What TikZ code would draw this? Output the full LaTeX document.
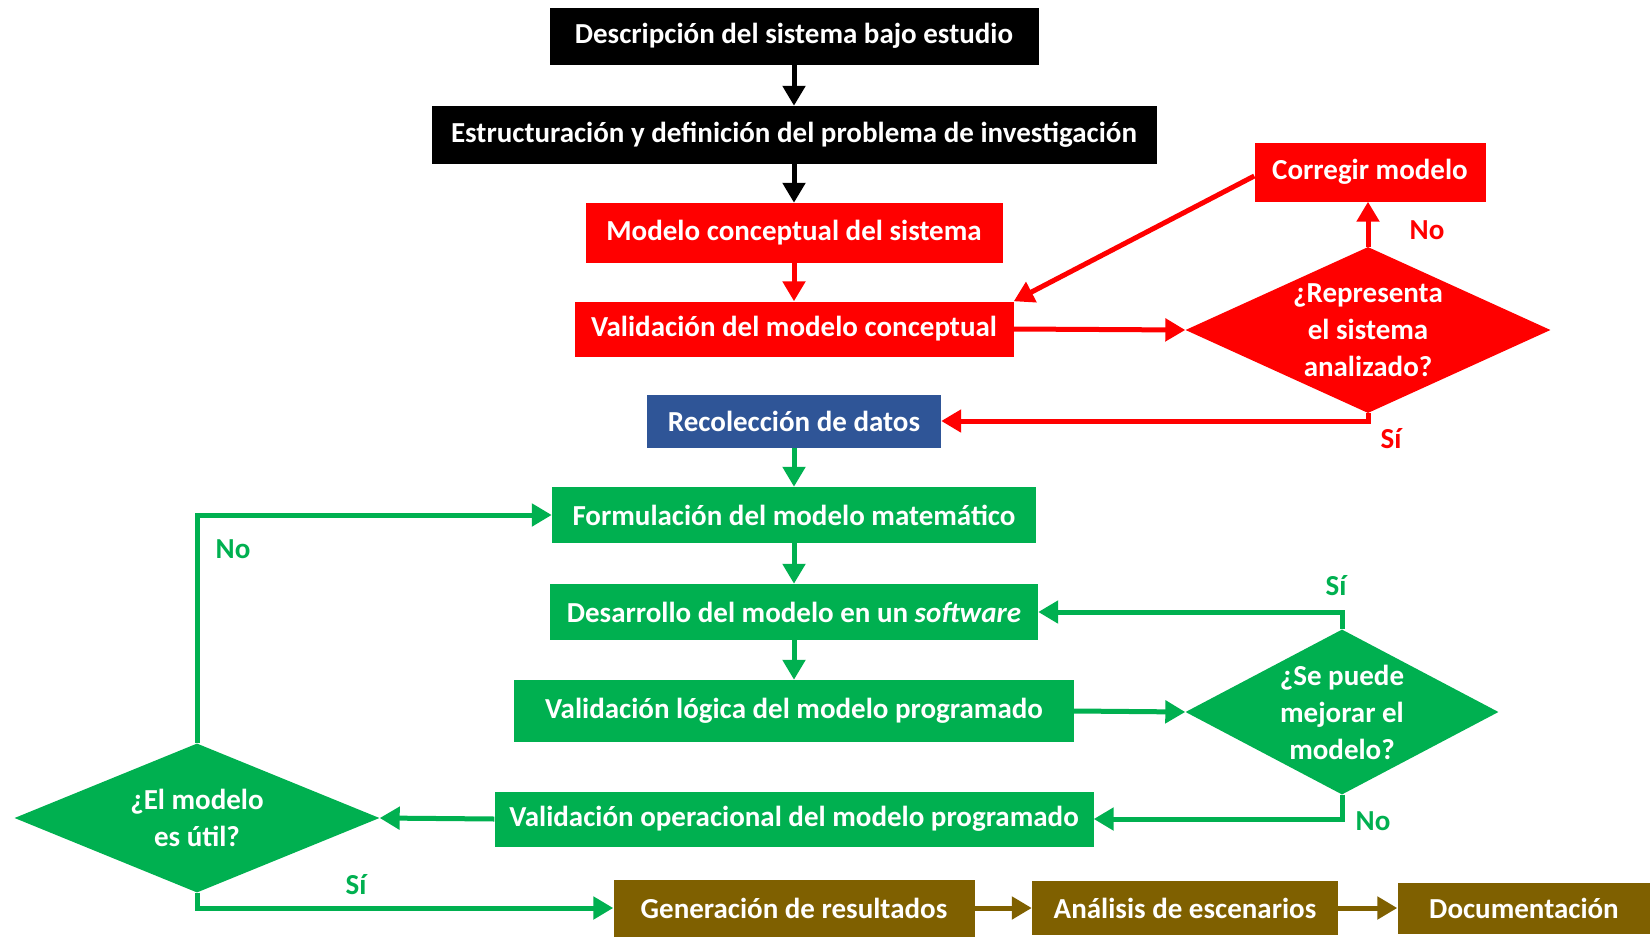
\documentclass[tikz,border=0pt]{standalone}
\usepackage{fontspec}
\setmainfont{Carlito}
\usetikzlibrary{shapes.geometric,arrows.meta}

\definecolor{rojo}{HTML}{FF0000}
\definecolor{verde}{HTML}{00B050}
\definecolor{azul}{HTML}{2F5597}
\definecolor{cafe}{HTML}{7F6000}

\tikzset{
  caja/.style={rectangle, fill=#1, text=white, inner sep=0pt,
    font=\fontsize{29}{34}\selectfont\bfseries},
  rombo/.style={diamond, fill=#1, text=white, inner sep=-6pt, align=center,
    font=\fontsize{29}{37}\selectfont\bfseries},
  flecha/.style={draw=#1, line width=5pt, -{Triangle[length=20pt,width=22pt]}},
  etiq/.style={text=#1, font=\fontsize{29}{34}\selectfont\bfseries}
}

\begin{document}
\begin{tikzpicture}[x=1pt,y=-1pt]
  \useasboundingbox (0,0) rectangle (1650,937);
  % etapa inicial
  \node[caja=black, minimum width=489pt, minimum height=57pt] (desc) at (794,36) {Descripción del sistema bajo estudio};
  \node[caja=black, minimum width=725pt, minimum height=58pt] (estr) at (794,135) {Estructuración y definición del problema de investigación};
  % modelo conceptual
  \node[caja=rojo, minimum width=417pt, minimum height=60pt] (conc) at (794,233) {Modelo conceptual del sistema};
  \node[caja=rojo, minimum width=439pt, minimum height=55pt] (valc) at (794,329) {Validación del modelo conceptual};
  \node[caja=rojo, minimum width=231pt, minimum height=59pt] (corr) at (1370,172) {Corregir modelo};
  \node[rombo=rojo, aspect=2.2, minimum width=365pt, minimum height=166pt] (repr) at (1368,330) {¿Representa\\el sistema\\analizado?};
  \node[caja=azul, minimum width=294pt, minimum height=53pt] (reco) at (794,421) {Recolección de datos};
  % modelo matematico
  \node[caja=verde, minimum width=484pt, minimum height=56pt] (form) at (794,515) {Formulación del modelo matemático};
  \node[caja=verde, minimum width=488pt, minimum height=56pt] (desa) at (794,612) {Desarrollo del modelo en un \textit{software}};
  \node[caja=verde, minimum width=560pt, minimum height=62pt] (vall) at (794,711) {Validación lógica del modelo programado};
  \node[rombo=verde, aspect=1.9, minimum width=313pt, minimum height=165pt] (mejo) at (1342,712) {¿Se puede\\mejorar el\\modelo?};
  \node[caja=verde, minimum width=599pt, minimum height=55pt] (valo) at (794,819) {Validación operacional del modelo programado};
  \node[rombo=verde, aspect=2.45, minimum width=365pt, minimum height=149pt] (util) at (197,818) {¿El modelo\\es útil?};
  % resultados
  \node[caja=cafe, minimum width=361pt, minimum height=57pt] (gene) at (794,908) {Generación de resultados};
  \node[caja=cafe, minimum width=306pt, minimum height=54pt] (anal) at (1185,908) {Análisis de escenarios};
  \node[caja=cafe, minimum width=253pt, minimum height=51pt] (docu) at (1524,908) {Documentación};

  \draw[flecha=black] (desc) -- (estr);
  \draw[flecha=black] (estr) -- (conc);
  \draw[flecha=rojo] (conc) -- (valc);
  \draw[flecha=rojo] (valc.east) -- (repr.west);
  \draw[flecha=rojo] (repr.north) -- (repr.north |- corr.south);
  \draw[flecha=rojo] ([yshift=-4pt]corr.west) -- (valc.north east);
  \draw[flecha=rojo] (repr.south) |- (reco.east);
  \draw[flecha=verde] (reco) -- (form);
  \draw[flecha=verde] (form) -- (desa);
  \draw[flecha=verde] (desa) -- (vall);
  \draw[flecha=verde] (vall.east) -- (mejo.west);
  \draw[flecha=verde] (mejo.north) |- (desa.east);
  \draw[flecha=verde] (mejo.south) |- (valo.east);
  \draw[flecha=verde] (valo.west) -- (util.east);
  \draw[flecha=verde] (util.north) |- (form.west);
  \draw[flecha=verde] (util.south) |- (gene.west);
  \draw[flecha=cafe] (gene) -- (anal);
  \draw[flecha=cafe] (anal) -- (docu);

  \node[etiq=rojo] (no1) at (1427,230) {No};
  \node[etiq=rojo] (si1) at (1391,439) {Sí};
  \node[etiq=verde] (si2) at (1336,586) {Sí};
  \node[etiq=verde] (no2) at (1373,821) {No};
  \node[etiq=verde] (no3) at (233,549) {No};
  \node[etiq=verde] (si3) at (356,885) {Sí};
\end{tikzpicture}
\end{document}
